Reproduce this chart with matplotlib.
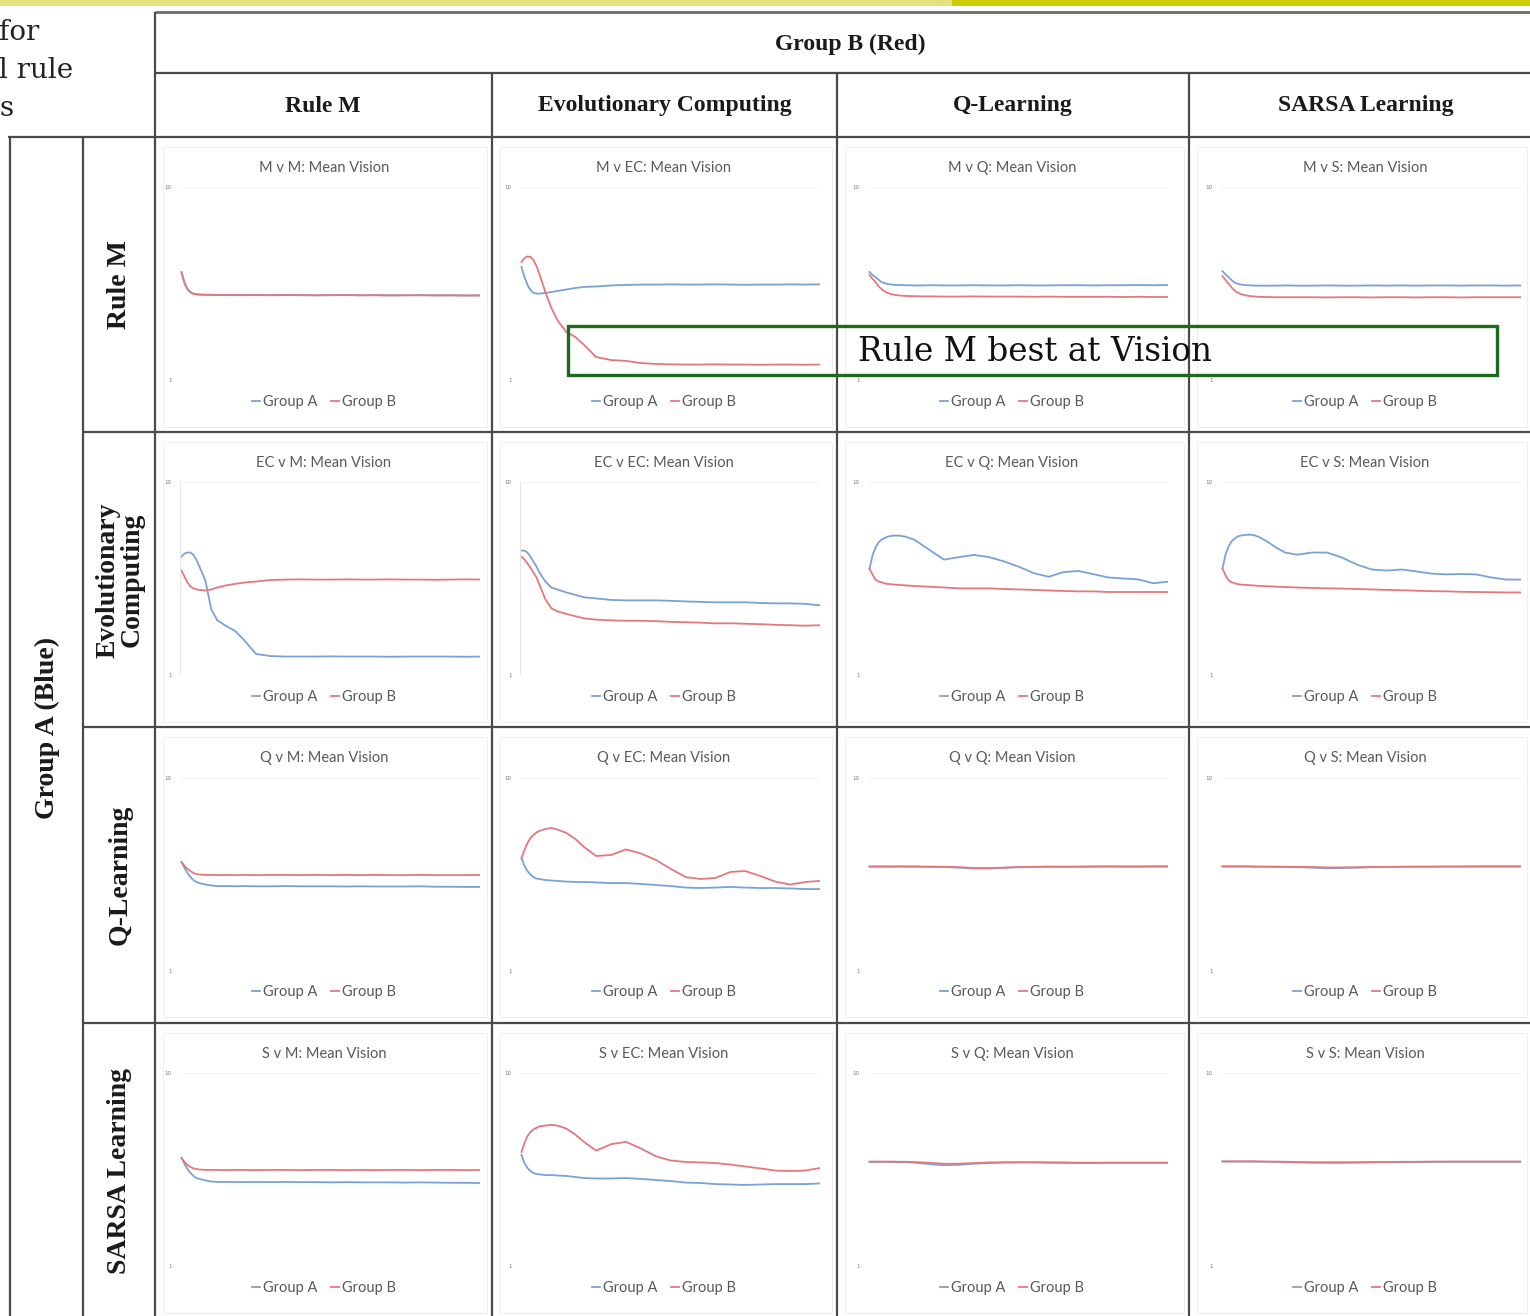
import matplotlib
matplotlib.use("Agg")
import matplotlib.pyplot as plt
from matplotlib.patches import Rectangle
from matplotlib.lines import Line2D

# generation sample points shared by every run
GEN = [0, 1, 2, 3, 4, 5, 6, 8, 10, 12, 15, 18, 21, 25, 30, 35, 40, 45, 50,
       55, 60, 65, 70, 75, 80, 85, 90, 95, 100]

# strategy codes / names
CODES = ["M", "EC", "Q", "S"]
STRATEGIES = ["Rule M", "Evolutionary Computing", "Q-Learning", "SARSA Learning"]
ROW_LABELS = ["Rule M", "Evolutionary\nComputing", "Q-Learning", "SARSA Learning"]

# mean vision per generation, Group A (blue) vs Group B (red)
MvM_A = [6.04, 5.55, 5.25, 5.10, 5.03, 5.00, 4.99, 4.98, 4.98, 4.97, 4.97, 4.96, 4.97, 4.96, 4.96,
         4.97, 4.96, 4.95, 4.96, 4.96, 4.95, 4.96, 4.95, 4.95, 4.96, 4.95, 4.95, 4.94, 4.95]
MvM_B = [6.00, 5.50, 5.22, 5.08, 5.02, 4.99, 4.98, 4.97, 4.97, 4.96, 4.96, 4.96, 4.95, 4.96, 4.95,
         4.96, 4.95, 4.95, 4.95, 4.96, 4.95, 4.95, 4.94, 4.95, 4.95, 4.94, 4.95, 4.94, 4.94]
MvEC_A = [6.27, 5.80, 5.43, 5.20, 5.06, 5.03, 5.03, 5.06, 5.10, 5.15, 5.22, 5.29, 5.34, 5.36, 5.41,
          5.43, 5.45, 5.45, 5.46, 5.45, 5.45, 5.46, 5.45, 5.44, 5.45, 5.45, 5.46, 5.45, 5.46]
MvEC_B = [6.50, 6.69, 6.76, 6.74, 6.60, 6.32, 5.94, 5.10, 4.36, 3.80, 3.24, 3.01, 2.63, 2.07, 1.93,
          1.89, 1.79, 1.75, 1.73, 1.72, 1.72, 1.73, 1.72, 1.72, 1.71, 1.72, 1.72, 1.71, 1.72]
MvQ_A = [6.04, 5.90, 5.80, 5.68, 5.57, 5.52, 5.48, 5.44, 5.43, 5.42, 5.41, 5.41, 5.42, 5.41, 5.41,
         5.42, 5.41, 5.41, 5.42, 5.41, 5.41, 5.42, 5.42, 5.41, 5.42, 5.42, 5.43, 5.42, 5.43]
MvQ_B = [5.90, 5.72, 5.57, 5.38, 5.24, 5.14, 5.06, 4.98, 4.94, 4.92, 4.91, 4.90, 4.90, 4.89, 4.89,
         4.90, 4.89, 4.89, 4.89, 4.88, 4.89, 4.88, 4.88, 4.88, 4.88, 4.87, 4.88, 4.87, 4.87]
MvS_A = [6.08, 5.92, 5.80, 5.66, 5.55, 5.49, 5.45, 5.42, 5.41, 5.40, 5.40, 5.40, 5.41, 5.40, 5.40,
         5.41, 5.40, 5.40, 5.41, 5.40, 5.41, 5.40, 5.41, 5.41, 5.40, 5.41, 5.41, 5.40, 5.41]
MvS_B = [5.85, 5.66, 5.50, 5.32, 5.18, 5.08, 5.01, 4.94, 4.90, 4.88, 4.87, 4.86, 4.86, 4.86, 4.86,
         4.85, 4.86, 4.86, 4.85, 4.86, 4.86, 4.85, 4.86, 4.86, 4.85, 4.86, 4.86, 4.86, 4.86]

ECvM_A = [6.52, 6.66, 6.71, 6.71, 6.61, 6.38, 6.06, 5.40, 4.05, 3.55, 3.28, 3.05, 2.62, 1.98, 1.88,
          1.86, 1.86, 1.86, 1.87, 1.86, 1.86, 1.86, 1.85, 1.86, 1.86, 1.86, 1.86, 1.85, 1.86]
ECvM_B = [5.87, 5.59, 5.31, 5.13, 5.04, 4.99, 4.97, 4.94, 4.99, 5.08, 5.18, 5.25, 5.31, 5.36, 5.43,
          5.45, 5.46, 5.45, 5.45, 5.46, 5.45, 5.45, 5.46, 5.45, 5.45, 5.44, 5.45, 5.46, 5.45]
ECvEC_A = [6.80, 6.80, 6.71, 6.52, 6.29, 6.06, 5.78, 5.36, 5.08, 4.99, 4.85, 4.74, 4.62, 4.57, 4.50,
           4.48, 4.48, 4.48, 4.46, 4.43, 4.41, 4.39, 4.39, 4.39, 4.36, 4.34, 4.34, 4.32, 4.25]
ECvEC_B = [6.52, 6.38, 6.20, 6.01, 5.78, 5.55, 5.22, 4.53, 4.11, 3.97, 3.85, 3.74, 3.64, 3.58, 3.55,
           3.53, 3.53, 3.51, 3.48, 3.46, 3.44, 3.41, 3.41, 3.39, 3.37, 3.34, 3.32, 3.30, 3.32]
ECvQ_A = [5.96, 6.57, 6.94, 7.17, 7.31, 7.38, 7.45, 7.50, 7.50, 7.45, 7.31, 7.03, 6.75, 6.38, 6.50,
          6.60, 6.50, 6.30, 6.05, 5.75, 5.58, 5.80, 5.85, 5.70, 5.55, 5.50, 5.46, 5.28, 5.35]
ECvQ_B = [5.96, 5.69, 5.45, 5.36, 5.32, 5.27, 5.25, 5.22, 5.20, 5.18, 5.15, 5.13, 5.11, 5.08, 5.04,
          5.04, 5.04, 5.01, 4.99, 4.97, 4.94, 4.92, 4.90, 4.90, 4.87, 4.87, 4.87, 4.87, 4.87]
ECvS_A = [5.96, 6.61, 6.99, 7.22, 7.36, 7.45, 7.50, 7.54, 7.54, 7.45, 7.22, 6.94, 6.71, 6.61, 6.71,
          6.71, 6.48, 6.15, 5.92, 5.87, 5.92, 5.83, 5.73, 5.69, 5.71, 5.69, 5.55, 5.45, 5.45]
ECvS_B = [5.96, 5.66, 5.42, 5.33, 5.28, 5.24, 5.22, 5.20, 5.18, 5.16, 5.14, 5.12, 5.10, 5.08, 5.06,
          5.04, 5.03, 5.01, 4.99, 4.97, 4.95, 4.93, 4.91, 4.90, 4.88, 4.87, 4.86, 4.85, 4.85]

QvM_A = [6.08, 5.80, 5.57, 5.38, 5.24, 5.15, 5.10, 5.03, 4.99, 4.96, 4.96, 4.95, 4.96, 4.95, 4.95,
         4.96, 4.95, 4.95, 4.95, 4.94, 4.95, 4.94, 4.94, 4.94, 4.95, 4.93, 4.93, 4.92, 4.92]
QvM_B = [6.08, 5.90, 5.76, 5.66, 5.57, 5.52, 5.50, 5.48, 5.48, 5.47, 5.48, 5.47, 5.48, 5.47, 5.48,
         5.48, 5.47, 5.48, 5.47, 5.48, 5.47, 5.48, 5.47, 5.47, 5.48, 5.47, 5.47, 5.47, 5.48]
QvEC_A = [6.27, 5.90, 5.66, 5.50, 5.38, 5.31, 5.29, 5.24, 5.22, 5.20, 5.17, 5.15, 5.15, 5.13, 5.10,
          5.10, 5.06, 5.01, 4.96, 4.89, 4.87, 4.89, 4.92, 4.89, 4.87, 4.87, 4.85, 4.82, 4.82]
QvEC_B = [6.27, 6.64, 6.97, 7.20, 7.34, 7.46, 7.53, 7.62, 7.67, 7.60, 7.44, 7.16, 6.78, 6.36, 6.41,
          6.67, 6.48, 6.18, 5.76, 5.38, 5.29, 5.34, 5.62, 5.66, 5.43, 5.17, 5.03, 5.15, 5.20]
QvQ_A = [5.86, 5.86, 5.87, 5.86, 5.86, 5.87, 5.86, 5.86, 5.87, 5.86, 5.86, 5.86, 5.85, 5.85, 5.82,
         5.78, 5.78, 5.81, 5.84, 5.85, 5.86, 5.85, 5.86, 5.86, 5.87, 5.86, 5.86, 5.87, 5.87]
QvQ_B = [5.88, 5.88, 5.88, 5.88, 5.88, 5.88, 5.88, 5.88, 5.88, 5.88, 5.88, 5.87, 5.87, 5.86, 5.84,
         5.80, 5.80, 5.82, 5.85, 5.86, 5.87, 5.87, 5.87, 5.88, 5.88, 5.88, 5.88, 5.88, 5.88]
QvS_A = [5.87, 5.87, 5.87, 5.87, 5.87, 5.87, 5.87, 5.87, 5.86, 5.86, 5.86, 5.85, 5.85, 5.84, 5.82,
         5.79, 5.80, 5.82, 5.84, 5.85, 5.86, 5.86, 5.86, 5.87, 5.87, 5.88, 5.88, 5.88, 5.88]
QvS_B = [5.88, 5.88, 5.88, 5.88, 5.88, 5.88, 5.88, 5.88, 5.88, 5.87, 5.87, 5.87, 5.86, 5.86, 5.85,
         5.83, 5.83, 5.84, 5.85, 5.86, 5.86, 5.87, 5.87, 5.87, 5.87, 5.87, 5.87, 5.87, 5.87]

SvM_A = [6.04, 5.76, 5.52, 5.34, 5.20, 5.10, 5.06, 4.99, 4.94, 4.92, 4.92, 4.92, 4.91, 4.92, 4.91,
         4.92, 4.91, 4.91, 4.90, 4.91, 4.90, 4.90, 4.90, 4.89, 4.90, 4.89, 4.88, 4.88, 4.87]
SvM_B = [6.04, 5.85, 5.71, 5.62, 5.55, 5.52, 5.50, 5.48, 5.48, 5.48, 5.47, 5.48, 5.48, 5.47, 5.48,
         5.48, 5.47, 5.48, 5.48, 5.47, 5.48, 5.47, 5.48, 5.48, 5.47, 5.48, 5.48, 5.47, 5.48]
SvEC_A = [6.18, 5.80, 5.57, 5.43, 5.34, 5.29, 5.27, 5.24, 5.24, 5.22, 5.20, 5.15, 5.10, 5.08, 5.08,
          5.10, 5.06, 5.01, 4.96, 4.89, 4.87, 4.82, 4.80, 4.78, 4.80, 4.82, 4.82, 4.82, 4.85]
SvEC_B = [6.32, 6.74, 7.06, 7.25, 7.37, 7.44, 7.51, 7.55, 7.58, 7.55, 7.41, 7.13, 6.78, 6.38, 6.68,
          6.79, 6.48, 6.12, 5.92, 5.85, 5.83, 5.80, 5.73, 5.64, 5.55, 5.45, 5.43, 5.45, 5.57]
SvQ_A = [5.85, 5.85, 5.85, 5.85, 5.85, 5.85, 5.85, 5.85, 5.84, 5.84, 5.82, 5.78, 5.74, 5.70, 5.72,
         5.77, 5.80, 5.82, 5.83, 5.83, 5.82, 5.81, 5.80, 5.80, 5.81, 5.81, 5.81, 5.81, 5.81]
SvQ_B = [5.87, 5.87, 5.87, 5.87, 5.87, 5.87, 5.87, 5.87, 5.86, 5.86, 5.85, 5.83, 5.80, 5.77, 5.77,
         5.80, 5.83, 5.84, 5.84, 5.84, 5.83, 5.83, 5.82, 5.82, 5.82, 5.82, 5.82, 5.82, 5.82]
SvS_A = [5.87, 5.87, 5.87, 5.87, 5.87, 5.87, 5.87, 5.87, 5.87, 5.86, 5.86, 5.85, 5.84, 5.83, 5.82,
         5.81, 5.81, 5.82, 5.83, 5.84, 5.84, 5.85, 5.85, 5.86, 5.86, 5.86, 5.86, 5.86, 5.86]
SvS_B = [5.88, 5.88, 5.88, 5.88, 5.88, 5.88, 5.88, 5.88, 5.88, 5.88, 5.87, 5.87, 5.86, 5.85, 5.84,
         5.84, 5.84, 5.84, 5.85, 5.85, 5.86, 5.86, 5.87, 5.87, 5.87, 5.87, 5.87, 5.87, 5.87]

RUNS = [
    [(MvM_A, MvM_B), (MvEC_A, MvEC_B), (MvQ_A, MvQ_B), (MvS_A, MvS_B)],
    [(ECvM_A, ECvM_B), (ECvEC_A, ECvEC_B), (ECvQ_A, ECvQ_B), (ECvS_A, ECvS_B)],
    [(QvM_A, QvM_B), (QvEC_A, QvEC_B), (QvQ_A, QvQ_B), (QvS_A, QvS_B)],
    [(SvM_A, SvM_B), (SvEC_A, SvEC_B), (SvQ_A, SvQ_B), (SvS_A, SvS_B)],
]

W, H = 1530, 1316
BLUE = "#7aa2d6"
RED = "#e4787c"
GRID = "#4a4a4a"
GREY_TXT = "#595959"

COL_L = [155, 492, 837, 1189]
COL_R = [492, 837, 1189, 1532]
COL_CX = [323, 665, 1013, 1366]
ROW_T = [137, 432, 727, 1023]
ROW_CY = [285, 580, 875, 1171]
PLOT_L = [180, 520, 868, 1221]
PLOT_W = 300
PLOT_T = [187, 482, 778, 1073]
PLOT_H = 193

fig = plt.figure(figsize=(W / 100, H / 100), dpi=100)

bg = fig.add_axes([0, 0, 1, 1], zorder=0)
bg.set_xlim(0, W)
bg.set_ylim(H, 0)
bg.axis("off")


def hline(y, x0, x1, lw=1.6, c=GRID):
    bg.plot([x0, x1], [y, y], color=c, lw=lw, solid_capstyle="butt")


def vline(x, y0, y1, lw=1.6, c=GRID):
    bg.plot([x, x], [y0, y1], color=c, lw=lw, solid_capstyle="butt")


# slide band along the top
bg.add_patch(Rectangle((0, 0), 952, 6, color="#e3e27c", lw=0))
bg.add_patch(Rectangle((952, 0), W - 952, 6, color="#cccc00", lw=0))

# cut-off slide text on the left
for y, s in zip([33, 71, 108], ["for", "l rule", "s"]):
    bg.text(-1, y, s, fontsize=20, family="DejaVu Serif", va="center", ha="left", color="#222222")

# table grid
hline(12, 155, W, lw=2.0, c="#6a6a6a")
hline(73, 155, W)
hline(137, 8, W)
for y in ROW_T[1:]:
    hline(y, 83, W)
vline(155, 12, H)
for x in COL_L[1:]:
    vline(x, 73, H)
vline(10, 137, H)
vline(83, 137, H)

serif_b = dict(family="Liberation Serif", weight="bold", color="#1a1a1a")
bg.text(850, 44, "Group B (Red)", fontsize=17, ha="center", va="center", **serif_b)
for cx, name in zip(COL_CX, STRATEGIES):
    bg.text(cx, 106, name, fontsize=17, ha="center", va="center", **serif_b)
bg.text(47, 728, "Group A (Blue)", fontsize=20, rotation=90, ha="center", va="center", **serif_b)
for cy, name in zip(ROW_CY, ROW_LABELS):
    bg.text(120, cy, name, fontsize=20, rotation=90, ha="center", va="center",
            linespacing=0.95, **serif_b)

for r in range(4):
    for c in range(4):
        # faint chart-area frame
        bg.add_patch(Rectangle((COL_L[c] + 8, ROW_T[r] + 10), COL_R[c] - COL_L[c] - 13, 280,
                               fill=False, ec="#efefef", lw=0.8))
        cx = PLOT_L[c] + PLOT_W / 2 - 6
        bg.text(cx, ROW_T[r] + 31, f"{CODES[r]} v {CODES[c]}: Mean Vision", fontsize=10.5,
                family="Lato", color=GREY_TXT, ha="center", va="center")

        a, b = RUNS[r][c]
        ax = fig.add_axes([PLOT_L[c] / W, 1 - (PLOT_T[r] + PLOT_H) / H, PLOT_W / W, PLOT_H / H],
                          zorder=1)
        ax.patch.set_alpha(0)
        ax.plot(GEN, a, color=BLUE, lw=1.3, solid_joinstyle="round")
        ax.plot(GEN, b, color=RED, lw=1.3, solid_joinstyle="round")
        ax.set_xlim(-0.5, 100)
        ax.set_ylim(1, 10)
        ax.set_xticks([])
        ax.set_yticks([1, 10])
        ax.set_yticklabels(["1", "10"], fontsize=4, color="#777777")
        ax.tick_params(axis="y", length=0, pad=6)
        ax.grid(axis="y", color="#f2f2f2", lw=0.6)
        for sp in ax.spines.values():
            sp.set_visible(False)
        if r == 1 and c < 2:
            ax.axvline(-0.5, color="#e6e6e6", lw=0.8)

        handles = [Line2D([], [], color=BLUE, lw=1.3), Line2D([], [], color=RED, lw=1.3)]
        fig.legend(handles, ["Group A", "Group B"], loc="center",
                   bbox_to_anchor=(cx / W, 1 - (ROW_T[r] + 265) / H), ncol=2, frameon=False,
                   handlelength=0.5, handletextpad=0.2, columnspacing=1.0,
                   prop={"family": "Lato", "size": 10.5}, labelcolor=GREY_TXT)

# callout
top = fig.add_axes([0, 0, 1, 1], zorder=5)
top.set_xlim(0, W)
top.set_ylim(H, 0)
top.axis("off")
top.patch.set_alpha(0)
top.add_patch(Rectangle((568, 326), 929, 49, fill=False, ec="#1d6a1d", lw=2.4))
top.text(858, 352, "Rule M best at Vision", fontsize=23.5, family="DejaVu Serif",
         color="#111111", ha="left", va="center")

fig.savefig("out.png", dpi=100)
